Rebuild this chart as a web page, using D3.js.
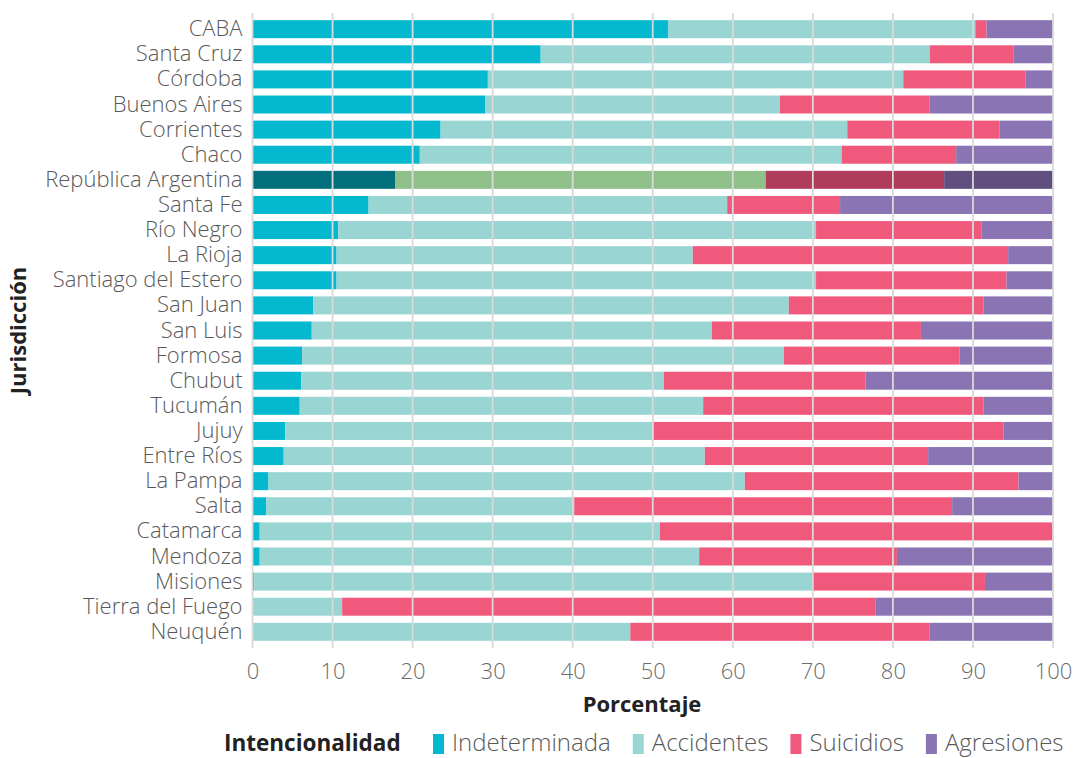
<!DOCTYPE html>
<html>
<head>
<meta charset="utf-8">
<script src="https://cdn.jsdelivr.net/npm/d3@7"></script>
<style>
  body { margin: 0; background: #fff; }
  svg text { font-family: "Open Sans", Lato, sans-serif; }
</style>
</head>
<body>
<svg id="chart" width="1075" height="758"></svg>
<script>

// DATA -----------------------------------------------------------------------

var jurisdicciones = [
    "CABA", "Santa Cruz", "Córdoba", "Buenos Aires", "Corrientes", "Chaco",
    "República Argentina", "Santa Fe", "Río Negro", "La Rioja",
    "Santiago del Estero", "San Juan", "San Luis", "Formosa", "Chubut",
    "Tucumán", "Jujuy", "Entre Ríos", "La Pampa", "Salta", "Catamarca",
    "Mendoza", "Misiones", "Tierra del Fuego", "Neuquén"
];

var intencionalidades = ["Indeterminada", "Accidentes", "Suicidios", "Agresiones"];

// percentages, one value per jurisdiction (same order as above)
var indeterminada = [51.9, 36.0, 29.4, 29.1, 23.5, 20.9, 17.8, 14.5, 10.7, 10.5,
                     10.5, 7.6, 7.4, 6.2, 6.1, 5.9, 4.1, 3.9, 2.0, 1.7, 0.9,
                     0.9, 0.2, 0.0, 0.0];
var accidentes    = [38.4, 48.6, 51.9, 36.8, 50.8, 52.7, 46.3, 44.8, 59.7, 44.5,
                     59.9, 59.4, 50.0, 60.2, 45.3, 50.4, 46.0, 52.6, 59.5, 38.5,
                     50.0, 54.9, 69.8, 11.2, 47.2];
var suicidios     = [1.4, 10.5, 15.3, 18.7, 19.0, 14.3, 22.3, 14.1, 20.7, 39.4,
                     23.8, 24.3, 26.1, 21.9, 25.2, 35.0, 43.7, 27.9, 34.2, 47.2,
                     49.1, 24.7, 21.5, 66.6, 37.4];
var agresiones    = [8.3, 4.9, 3.4, 15.4, 6.7, 12.1, 13.6, 26.6, 8.9, 5.6,
                     5.8, 8.7, 16.5, 11.7, 23.4, 8.7, 6.2, 15.6, 4.3, 12.6,
                     0.0, 19.5, 8.5, 22.2, 15.4];

var xTicks = [0, 10, 20, 30, 40, 50, 60, 70, 80, 90, 100];

var colores      = ["#04b9cf", "#99d5d2", "#f0597c", "#8a74b4"];
var coloresPais  = ["#02707c", "#90c08a", "#b03c5c", "#614f80"]; // República Argentina


// SETUP ----------------------------------------------------------------------

var svg = d3.select("#chart");
var plotLeft = 252.5, plotRight = 1053, plotTop = 13, plotBottom = 648;
var lightFont = "'Open Sans', Lato, sans-serif";

var x = d3.scaleLinear().domain([0, 100]).range([plotLeft, plotRight]);
var y = d3.scaleBand().domain(jurisdicciones).range([plotTop, plotBottom])
    .paddingInner(0.283).paddingOuter(0.286);

var series = [indeterminada, accidentes, suicidios, agresiones];
var rows = jurisdicciones.map(function(j, i) {
    var row = { name: j };
    intencionalidades.forEach(function(k, s) { row[k] = series[s][i]; });
    return row;
});
var stacked = d3.stack().keys(intencionalidades)(rows);


// BARS -----------------------------------------------------------------------

svg.append("g").selectAll("g")
    .data(stacked).enter()
    .append("g")
    .each(function(layer, s) {
        d3.select(this).selectAll("rect")
            .data(layer).enter()
            .append("rect")
            .attr("x", function(d) { return x(d[0]); })
            .attr("y", function(d) { return y(d.data.name); })
            .attr("width", function(d) { return Math.max(0, x(d[1]) - x(d[0])); })
            .attr("height", y.bandwidth())
            .attr("fill", function(d) {
                return d.data.name == "República Argentina" ? coloresPais[s] : colores[s];
            });
    });

// grid lines sit on top of the bars
svg.append("g").selectAll("line")
    .data(xTicks).enter()
    .append("line")
    .attr("x1", function(d) { return x(d); })
    .attr("x2", function(d) { return x(d); })
    .attr("y1", plotTop)
    .attr("y2", plotBottom)
    .attr("stroke", "#d9d9d9")
    .attr("stroke-width", 1.8);


// AXES -----------------------------------------------------------------------

var yAxis = svg.append("g")
    .attr("transform", "translate(" + (plotLeft - 10) + ",0)")
    .call(d3.axisLeft(y).tickSize(0).tickPadding(0));
yAxis.select(".domain").remove();
yAxis.selectAll("text")
    .attr("font-size", 22).attr("font-weight", 300)
    .attr("fill", "#595959").style("font-family", lightFont);

var xAxis = svg.append("g")
    .attr("transform", "translate(0," + (plotBottom + 15) + ")")
    .call(d3.axisBottom(x).tickValues(xTicks).tickSize(0).tickPadding(0));
xAxis.select(".domain").remove();
xAxis.selectAll("text")
    .attr("font-size", 22).attr("font-weight", 300)
    .attr("fill", "#6b6b6b").style("font-family", lightFont);

svg.append("text")
    .attr("x", 642).attr("y", 712)
    .attr("text-anchor", "middle")
    .attr("font-size", 22).attr("font-weight", 700).attr("fill", "#222")
    .text("Porcentaje");

svg.append("text")
    .attr("transform", "translate(26," + ((plotTop + plotBottom) / 2) + ") rotate(-90)")
    .attr("text-anchor", "middle")
    .attr("font-size", 22).attr("font-weight", 700).attr("fill", "#222")
    .text("Jurisdicción");


// LEGEND ---------------------------------------------------------------------

var legend = svg.append("g").attr("transform", "translate(0,743)");
legend.append("text")
    .attr("x", 224).attr("dy", "0.35em")
    .attr("font-size", 22.5).attr("font-weight", 700).attr("fill", "#222")
    .text("Intencionalidad");

var lx = 433;
intencionalidades.forEach(function(k, i) {
    legend.append("rect")
        .attr("x", lx).attr("y", -9)
        .attr("width", 11).attr("height", 20)
        .attr("fill", colores[i]);
    var t = legend.append("text")
        .attr("x", lx + 19).attr("dy", "0.35em")
        .attr("font-size", 24).attr("font-weight", 300).attr("fill", "#595959")
        .style("font-family", lightFont)
        .text(k);
    lx += 19 + t.node().getComputedTextLength() + 22;
});

</script>
</body>
</html>
